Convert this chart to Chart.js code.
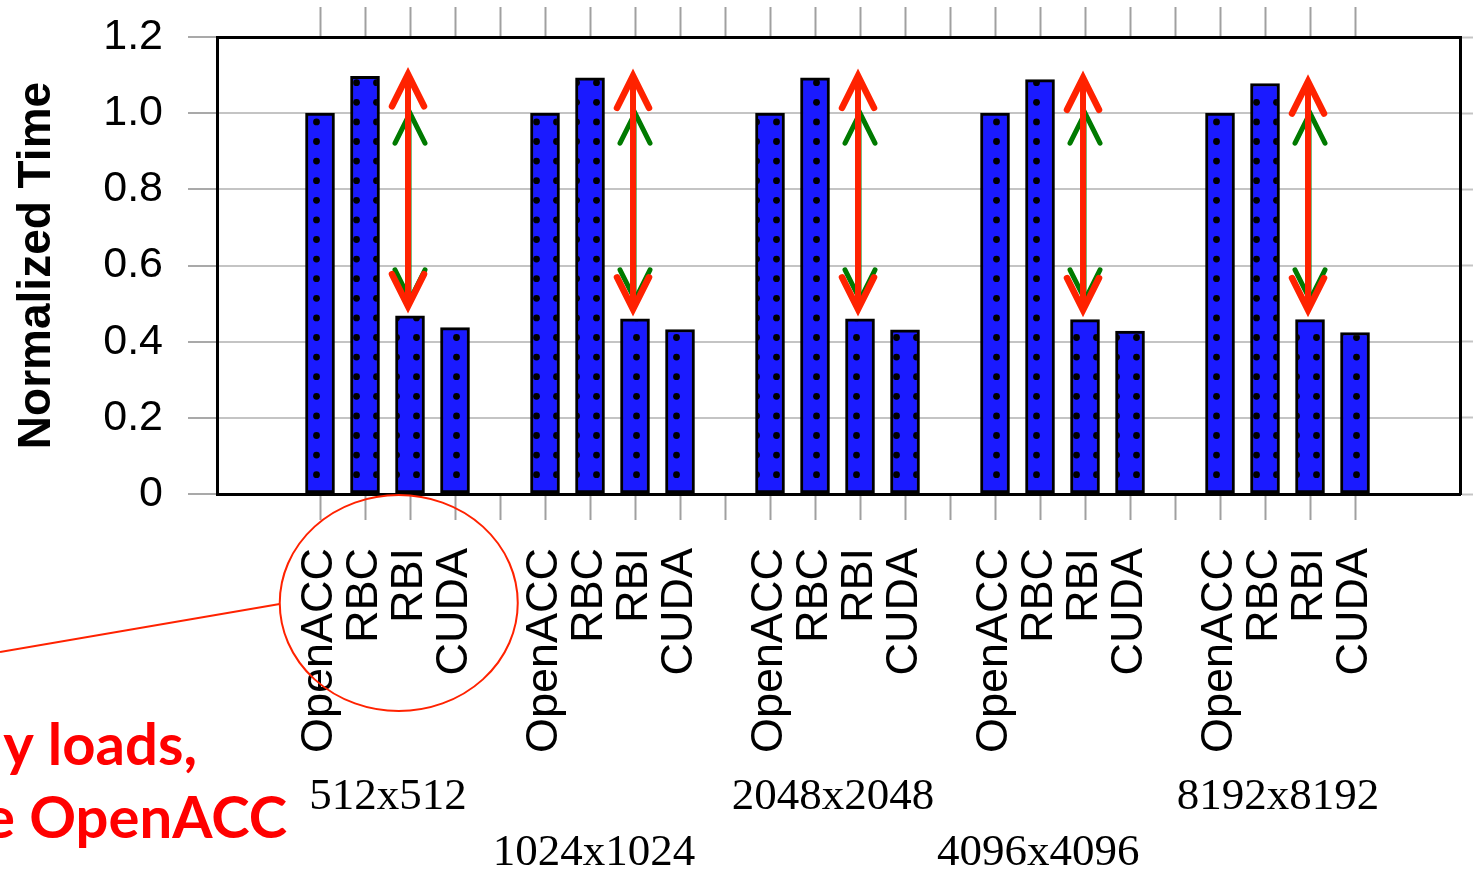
<!DOCTYPE html>
<html><head><meta charset="utf-8">
<style>html,body{margin:0;padding:0;background:#fff;overflow:hidden;} #wrap{width:1473px;height:874px;position:relative;}</style>
<script src="https://cdn.jsdelivr.net/npm/chart.js@4.4.1/dist/chart.umd.min.js"></script>
</head><body><div id="wrap"><canvas id="c" width="1473" height="874"></canvas></div>
<script>
// ---- data ----
const methods = ['OpenACC', 'RBC', 'RBI', 'CUDA'];
const sizes = ['512x512', '1024x1024', '2048x2048', '4096x4096', '8192x8192'];
const openacc = [1.0, 1.0, 1.0, 1.0, 1.0];
const rbc = [1.097, 1.093, 1.093, 1.088, 1.078];
const rbi = [0.468, 0.460, 0.460, 0.458, 0.458];
const cuda = [0.437, 0.432, 0.431, 0.428, 0.424];
const yTicks = [0, 0.2, 0.4, 0.6, 0.8, 1.0, 1.2];
const greenArrowEnd = [0.51, 0.51, 0.51, 0.51, 0.51];

const series = [openacc, rbc, rbi, cuda];
const slotsPerGroup = methods.length + 1;
const points = [];
sizes.forEach((s, g) => series.forEach((arr, i) => points.push({ x: g * slotsPerGroup + i, y: arr[g] })));
const tickSlots = [];
for (let i = 0; i < sizes.length * slotsPerGroup - 1; i++) tickSlots.push(i);

const canvas = document.getElementById('c');
const mainCtx = canvas.getContext('2d');
function makePattern() {
  const t = document.createElement('canvas');
  t.width = 20; t.height = 98;
  const c = t.getContext('2d');
  c.fillStyle = '#1a1aff'; c.fillRect(0, 0, 20, 98);
  c.fillStyle = '#000';
  for (let k = 0; k < 5; k++) {
    c.beginPath(); c.arc(16.5, 4.3 + 19.6 * k, 3.4, 0, Math.PI * 2); c.fill();
  }
  return mainCtx.createPattern(t, 'repeat');
}

function drawArrow(ctx, x, yTop, yBot, color, shaftW, headW, hw, hl) {
  ctx.strokeStyle = color;
  ctx.lineCap = 'round';
  ctx.lineJoin = 'miter';
  ctx.lineWidth = shaftW;
  ctx.beginPath(); ctx.moveTo(x, yTop + 4); ctx.lineTo(x, yBot - 4); ctx.stroke();
  ctx.lineWidth = headW;
  ctx.beginPath();
  ctx.moveTo(x - hw, yTop + hl); ctx.lineTo(x, yTop); ctx.lineTo(x + hw, yTop + hl);
  ctx.stroke();
  ctx.beginPath();
  ctx.moveTo(x - hw, yBot - hl); ctx.lineTo(x, yBot); ctx.lineTo(x + hw, yBot - hl);
  ctx.stroke();
}

const annot = {
  id: 'annot',
  afterDatasetsDraw(chart, args, opts) {
    const { ctx, scales: { x, y } } = chart;
    ctx.save();
    sizes.forEach((s, g) => {
      const px = x.getPixelForValue(g * slotsPerGroup + 2) - 2;
      drawArrow(ctx, px + 2, y.getPixelForValue(openacc[g]), y.getPixelForValue(greenArrowEnd[g]), '#007a00', 3, 5, 15, 30);
      drawArrow(ctx, px, y.getPixelForValue(rbc[g] + 0.005), y.getPixelForValue(rbi[g] + 0.025), '#ff2200', 6, 6.5, 16, 32);
    });
    ctx.restore();
  },
  afterDraw(chart, args, opts) {
    const { ctx, scales: { x } } = chart;
    ctx.save();
    // group labels
    ctx.fillStyle = '#000';
    ctx.font = '45px "Liberation Serif"';
    ctx.textAlign = 'center';
    ctx.textBaseline = 'middle';
    sizes.forEach((s, g) => ctx.fillText(s, x.getPixelForValue(opts.groupLabelPos[g]), g % 2 ? 853 : 797));
    // circle + callout
    const cx = x.getPixelForValue(1.75), cy = 603;
    ctx.strokeStyle = '#ff2200';
    ctx.lineWidth = 2;
    ctx.beginPath(); ctx.ellipse(cx, cy, 119, 108, 0, 0, Math.PI * 2); ctx.stroke();
    ctx.beginPath(); ctx.moveTo(cx - 119, cy + 1); ctx.lineTo(0, 652); ctx.stroke();
    ctx.fillStyle = '#ff0000';
    ctx.font = 'bold 58px Lato';
    ctx.textAlign = 'right';
    ctx.textBaseline = 'alphabetic';
    ctx.fillText('y loads,', 197, 765);
    ctx.fillText('e OpenACC', 287, 838);
    ctx.restore();
  }
};

const xMin = -2.289, xMax = 25.333;
const yFont = { family: 'Liberation Sans', size: 43 };
const xFont = { family: 'Liberation Sans', size: 45 };
function zeroPad(s) { s.paddingTop = 0; s.paddingBottom = 0; s.paddingLeft = 0; s.paddingRight = 0; }

new Chart(canvas, {
  type: 'bar',
  data: {
    datasets: [{
      data: points,
      backgroundColor: makePattern(),
      borderColor: '#000',
      borderWidth: 3,
      borderSkipped: false,
      barThickness: 29
    }]
  },
  options: {
    responsive: false,
    animation: false,
    devicePixelRatio: 1,
    layout: { padding: 0 },
    plugins: { legend: { display: false }, tooltip: { enabled: false },
      annot: { groupLabelPos: [1.51, 6.09, 11.4, 15.96, 21.29] } },
    scales: {
      x: {
        type: 'linear', position: 'bottom', min: xMin, max: xMax, offset: false,
        afterBuildTicks: s => { s.ticks = tickSlots.map(v => ({ value: v })); },
        afterFit: s => { s.height = 380; zeroPad(s); },
        ticks: {
          autoSkip: false, minRotation: 90, maxRotation: 90, padding: 28,
          font: xFont, color: '#000',
          callback: v => (v % slotsPerGroup < methods.length ? methods[v % slotsPerGroup] : '')
        },
        grid: { offset: false, drawOnChartArea: false, drawTicks: true, tickLength: 26, tickColor: '#a0a0a0', tickWidth: 2 },
        border: { display: true, color: '#000', width: 3 }
      },
      x2: {
        type: 'linear', position: 'top', min: xMin, max: xMax, offset: false,
        afterBuildTicks: s => { s.ticks = tickSlots.map(v => ({ value: v })); },
        afterFit: s => { s.height = 37; zeroPad(s); },
        ticks: { display: false },
        grid: { offset: false, drawOnChartArea: false, drawTicks: true, tickLength: 30, tickColor: '#a0a0a0', tickWidth: 2 },
        border: { display: true, color: '#000', width: 3 }
      },
      y: {
        min: 0, max: 1.2, position: 'left',
        afterBuildTicks: s => { s.ticks = yTicks.map(v => ({ value: v })); },
        afterFit: s => { s.width = 217; zeroPad(s); },
        ticks: { padding: 25, font: yFont, color: '#000', callback: v => (v === 0 ? '0' : v.toFixed(1)) },
        grid: { color: '#c4c4c4', lineWidth: 2, tickLength: 29, tickColor: '#8c8c8c', tickWidth: 1.5 },
        border: { display: true, color: '#000', width: 3 },
        title: { display: true, text: 'Normalized Time', color: '#000',
          font: { family: 'Liberation Sans', size: 46, weight: 'bold' }, padding: { top: 10, bottom: 0 } }
      },
      y2: {
        min: 0, max: 1.2, position: 'right',
        afterBuildTicks: s => { s.ticks = yTicks.map(v => ({ value: v })); },
        afterFit: s => { s.width = 13; zeroPad(s); },
        ticks: { display: false },
        grid: { drawOnChartArea: false, tickLength: 13, tickColor: '#c4c4c4', tickWidth: 2 },
        border: { display: true, color: '#000', width: 3 }
      }
    }
  },
  plugins: [annot]
});
</script>
</body></html>
